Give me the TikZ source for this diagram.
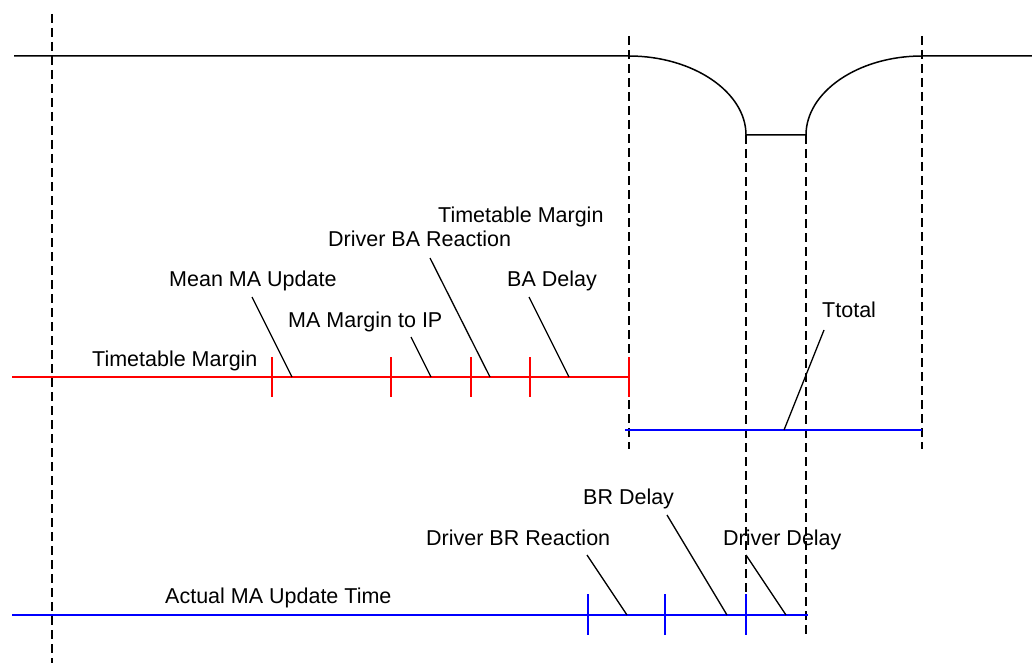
\documentclass[tikz,border=0pt]{standalone}
\usepackage{fontspec}
\setmainfont{Liberation Sans}
\begin{document}
\begin{tikzpicture}[x=1pt,y=-1pt,
  guide/.style={draw=black,line width=1.5pt,dash pattern=on 9pt off 5pt},
  track/.style={draw=black,line width=1.5pt},
  redline/.style={draw=red,line width=1.8pt},
  blueline/.style={draw=blue,line width=1.8pt},
  leader/.style={draw=black,line width=1.3pt},
  lbl/.style={inner sep=0pt,anchor=base west,font=\fontsize{21.5}{25}\selectfont}]
\useasboundingbox (0,0) rectangle (1032,663);
% guides
\draw[guide] (52,14) coordinate (g1a) -- (52,663) coordinate (g1b);
\draw[guide] (629,36) coordinate (g2a) -- (629,449) coordinate (g2b);
\draw[guide] (922,36) coordinate (g3a) -- (922,449) coordinate (g3b);
\draw[guide] (746,135) coordinate (g4a) -- (746,635) coordinate (g4b);
\draw[guide] (806,135) coordinate (g5a) -- (806,635) coordinate (g5b);
% track profile
\coordinate (t0) at (14,56);
\coordinate (t1) at (629,56);
\coordinate (t2) at (746,135);
\coordinate (t3) at (806,135);
\coordinate (t4) at (922,56);
\coordinate (t5) at (1032,56);
\draw[track] (t0) -- (t1) .. controls (693,56) and (746,92) .. (t2) -- (t3)
  .. controls (806,92) and (858,56) .. (t4) -- (t5);
% red line
\coordinate (r0) at (12,377);
\coordinate (r1) at (629,377);
\draw[redline] (r0) -- (r1);
\foreach \x/\n in {272/ra,391/rb,471/rc,530/rd,629/re}{
  \draw[redline] (\x,357) coordinate (\n top) -- (\x,397) coordinate (\n bot);
}
% blue line 1
\coordinate (b0) at (625,430);
\coordinate (b1) at (922,430);
\draw[blueline] (b0) -- (b1);
% blue line 2
\coordinate (c0) at (12,615);
\coordinate (c1) at (808,615);
\draw[blueline] (c0) -- (c1);
\foreach \x/\n in {588/ca,665/cb,746/cc}{
  \draw[blueline] (\x,594) coordinate (\n top) -- (\x,635) coordinate (\n bot);
}
% labels
\node[lbl] (l1) at (92,366) {Timetable Margin};
\node[lbl] (l2) at (169,286) {Mean MA Update};
\node[lbl] (l3) at (288,327) {MA Margin to IP};
\node[lbl] (l4) at (328,246) {Driver BA Reaction};
\node[lbl] (l5) at (438,222) {Timetable Margin};
\node[lbl] (l6) at (507,286) {BA Delay};
\node[lbl] (l7) at (822,317) {Ttotal};
\node[lbl] (l8) at (165,603) {Actual MA Update Time};
\node[lbl] (l9) at (426,545) {Driver BR Reaction};
\node[lbl] (l10) at (583,504) {BR Delay};
\node[lbl] (l11) at (723,545) {Driver Delay};
% leaders
\draw[leader] (252,297) coordinate (p2) -- (292,377) coordinate (q2);
\draw[leader] (411,337) coordinate (p3) -- (431,377) coordinate (q3);
\draw[leader] (430,258) coordinate (p4) -- (490,377) coordinate (q4);
\draw[leader] (529,297) coordinate (p6) -- (569,377) coordinate (q6);
\draw[leader] (824,330) coordinate (p7) -- (784,430) coordinate (q7);
\draw[leader] (587,555) coordinate (p9) -- (627,615) coordinate (q9);
\draw[leader] (667,515) coordinate (p10) -- (727,615) coordinate (q10);
\draw[leader] (746,555) coordinate (p11) -- (786,615) coordinate (q11);
\end{tikzpicture}
\end{document}
